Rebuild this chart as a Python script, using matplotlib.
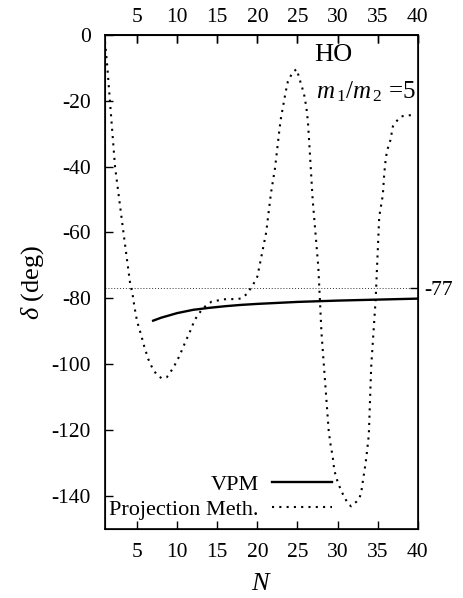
import numpy as np
import matplotlib
matplotlib.use("Agg")
import matplotlib.pyplot as plt

plt.rcParams["font.family"] = ["Liberation Serif", "DejaVu Serif"]
plt.rcParams["mathtext.fontset"] = "custom"
plt.rcParams["mathtext.rm"] = "Liberation Serif"
plt.rcParams["mathtext.it"] = "Liberation Serif:italic"
plt.rcParams["axes.unicode_minus"] = False

# ---- data ----
proj_N = [1.0, 1.3, 1.6, 2.25, 3.3, 4.1, 4.45, 4.7, 5.0, 5.5, 5.9, 6.4, 7.0,
          7.5, 8.06, 8.7, 9.5, 10.25, 10.96, 11.6, 12.2, 13.2, 14.3, 15.9,
          17.6, 18.0, 18.85, 19.1, 19.7, 20.0, 20.3, 21.1, 21.7, 22.2, 22.5,
          22.7, 22.9, 23.2, 23.5, 23.8, 24.4, 24.9, 25.3, 25.8, 26.1, 26.3,
          26.5, 26.9, 27.6, 28.0, 28.9, 29.1, 29.4, 29.6, 30.05, 30.7, 31.3,
          31.7, 32.4, 32.75, 33.0, 33.25, 33.5, 33.7, 33.9, 34.2, 34.75, 35.2,
          35.65, 35.8, 35.95, 36.15, 36.6, 36.9, 37.2, 37.9, 38.4, 39.5]
proj_delta = [-2.0, -10.0, -19.7, -40.0, -60.0, -74.9, -79.0, -83.0, -87.0,
              -91.1, -94.7, -98.5, -101.7, -103.3, -104.3, -104.0, -101.2,
              -97.7, -93.6, -90.1, -86.5, -83.0, -81.0, -80.3, -80.2, -80.0,
              -78.4, -77.2, -74.9, -73.4, -69.8, -60.0, -48.0, -40.5, -34.2,
              -29.9, -25.8, -21.8, -17.7, -14.2, -11.3, -10.4, -13.7, -17.7,
              -21.8, -26.1, -33.9, -50.1, -70.4, -90.6, -120.3, -124.0, -128.2,
              -132.3, -136.1, -139.7, -142.4, -143.2, -141.7, -140.7, -138.2,
              -134.1, -130.1, -126.0, -121.5, -100.7, -80.5, -55.2, -48.6,
              -43.0, -39.0, -35.4, -31.9, -27.8, -26.6, -24.8, -24.5, -24.3]

vpm_N = [7, 8, 9, 10, 12, 14, 16, 18, 20, 25, 30, 35, 40]
vpm_delta = [-86.8, -85.9, -85.2, -84.5, -83.5, -82.9, -82.4, -82.0, -81.7,
             -81.1, -80.7, -80.4, -80.1]

ref_level = -77
xticks = [5, 10, 15, 20, 25, 30, 35, 40]
yticks = [0, -20, -40, -60, -80, -100, -120, -140]

fig = plt.figure(figsize=(4.63, 5.98), dpi=100)
ax = fig.add_axes([0.2268, 0.1159, 0.6754, 0.8256])

ax.axhline(ref_level, color="#333333", linewidth=0.7, linestyle=(0, (1, 2)))
ax.plot(proj_N, proj_delta, color="black", linewidth=1.5, linestyle=(0, (1, 2.5)),
        label="Projection Meth.")
ax.plot(vpm_N, vpm_delta, color="black", linewidth=1.7, label="VPM")

ax.set_xlim(1, 40)
ax.set_ylim(-150, 0)
ax.set_xticks(xticks)
ax.set_yticks(yticks)
ax.tick_params(direction="in", length=6, width=1, labelsize=15.5,
               top=True, right=True, pad=10)
for s in ax.spines.values():
    s.set_linewidth(1.2)

# top tick labels with their own padding
axt = ax.secondary_xaxis("top")
axt.set_xticks(xticks)
axt.tick_params(direction="in", length=6, width=1, labelsize=15.5, pad=6)
axt.spines["top"].set_linewidth(1.2)

# right side label for the reference line
axr = ax.twinx()
axr.set_ylim(ax.get_ylim())
axr.set_yticks([ref_level])
axr.set_yticklabels([str(ref_level)])
axr.tick_params(direction="in", length=6, width=1, labelsize=15.5, pad=5)

ax.set_xlabel(r"$N$", fontsize=19, labelpad=8)
ax.set_ylabel(r"$\delta$ (deg)", fontsize=19, labelpad=4)

ax.text(0.79, 0.96, "HO", transform=ax.transAxes, fontsize=19,
        ha="right", va="center")
ax.text(0.995, 0.885, r"$m_{\,1}/m_{\,2}$ =5", transform=ax.transAxes,
        fontsize=18, ha="right", va="center")

# gnuplot-style key
ax.legend(handles=[ax.lines[2], ax.lines[1]], loc="lower right",
          bbox_to_anchor=(0.776, -0.013), frameon=False, fontsize=16,
          markerfirst=False, handlelength=2.7, handletextpad=0.6,
          labelspacing=0.19, borderpad=0.2)
for t in ax.get_legend().get_texts():
    t.set_ha("right")

fig.savefig("out.png", dpi=100)
